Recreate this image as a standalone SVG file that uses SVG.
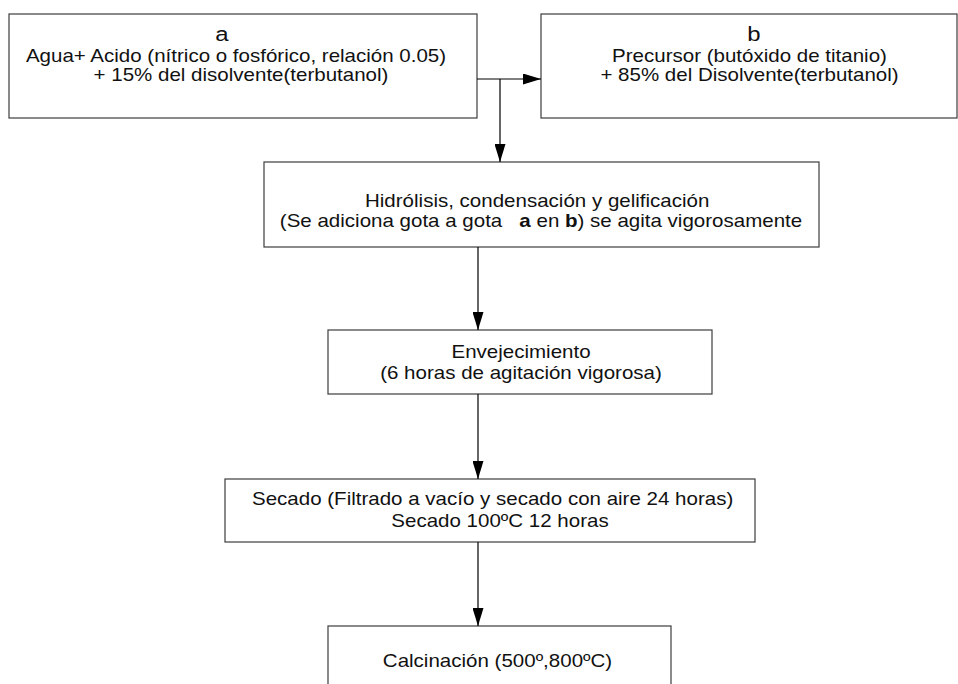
<svg xmlns="http://www.w3.org/2000/svg" width="958" height="684" viewBox="0 0 958 684">
<style>
.box{fill:#fff;stroke:#3c3c3c;stroke-width:1.2}
.t{font-family:"Liberation Sans",Arial,sans-serif;font-size:18px;fill:#111}
.m{text-anchor:middle}
.big{font-size:21px}
.con{stroke:#000;stroke-width:1.2;fill:none;marker-end:url(#ah)}
</style>
<defs>
<marker id="ah" markerUnits="userSpaceOnUse" markerWidth="18" markerHeight="11" refX="18" refY="5.5" orient="auto">
<path d="M0,0 L18,5.5 L0,11 z" fill="#000"/>
</marker>
</defs>
<rect width="958" height="684" fill="#fff"/>
<g id="nodeA">
<rect class="box" x="9" y="14" width="468" height="104"/>
<text class="t m big" transform="translate(222,41) scale(1.14,1)">a</text>
<text class="t m" transform="translate(236,62) scale(1.14,1)">Agua+ Acido (nítrico o fosfórico, relación 0.05)</text>
<text class="t m" transform="translate(241,81) scale(1.14,1)">+ 15% del disolvente(terbutanol)</text>
</g>
<g id="nodeB">
<rect class="box" x="541" y="14" width="416" height="104"/>
<text class="t m big" transform="translate(754,41) scale(1.14,1)">b</text>
<text class="t m" transform="translate(749.5,62) scale(1.14,1)">Precursor (butóxido de titanio)</text>
<text class="t m" transform="translate(749.5,81) scale(1.14,1)">+ 85% del Disolvente(terbutanol)</text>
</g>
<g id="nodeHidrolisis">
<rect class="box" x="264" y="162" width="555" height="85"/>
<text class="t" transform="translate(365,207) scale(1.14,1)">Hidrólisis, condensación y gelificación</text>
<text class="t m" xml:space="preserve" transform="translate(541,227) scale(1.14,1)">(Se adiciona gota a gota   <tspan font-weight="bold">a</tspan> en <tspan font-weight="bold">b</tspan>) se agita vigorosamente</text>
</g>
<g id="nodeEnvejecimiento">
<rect class="box" x="328" y="330" width="384" height="64"/>
<text class="t m" transform="translate(521,358) scale(1.14,1)">Envejecimiento</text>
<text class="t m" transform="translate(521,379) scale(1.14,1)">(6 horas de agitación vigorosa)</text>
</g>
<g id="nodeSecado">
<rect class="box" x="225" y="479" width="530" height="63"/>
<text class="t" transform="translate(252,505) scale(1.14,1)">Secado (Filtrado a vacío y secado con aire 24 horas)</text>
<text class="t m" transform="translate(500,527) scale(1.14,1)">Secado 100ºC 12 horas</text>
</g>
<g id="nodeCalcinacion">
<rect class="box" x="328" y="626" width="343" height="70"/>
<text class="t m" transform="translate(497.5,667) scale(1.14,1)">Calcinación (500º,800ºC)</text>
</g>
<g id="connectors">
<line class="con" x1="477" y1="79" x2="541" y2="79"/>
<path class="con" d="M500,79 L500,162"/>
<line class="con" x1="478" y1="247" x2="478" y2="330"/>
<line class="con" x1="478" y1="394" x2="478" y2="479"/>
<line class="con" x1="478" y1="542" x2="478" y2="626"/>
</g>
</svg>
